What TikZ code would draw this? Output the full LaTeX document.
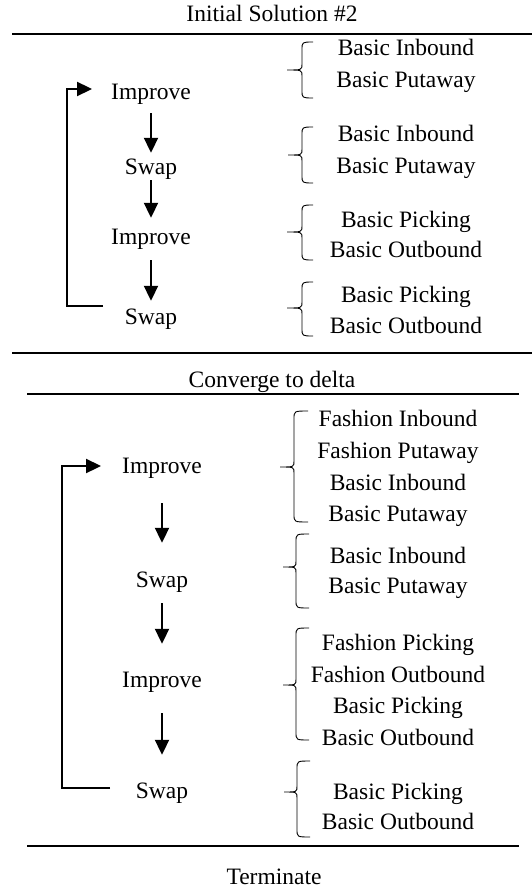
\documentclass[tikz,border=0pt]{standalone}
\usepackage{fontspec}
\setmainfont{Liberation Serif}
\usetikzlibrary{arrows.meta}
\begin{document}
\begin{tikzpicture}[x=1pt,y=-1pt,
  txt/.style={font=\fontsize{23.5pt}{28pt}\selectfont,inner sep=0pt,anchor=base,text height=16pt,text depth=5pt},
  rule/.style={line width=2.2pt},
  arr/.style={line width=2pt,-{Triangle[length=15pt,width=14pt]}},
  loopline/.style={line width=2.3pt,-{Triangle[length=15pt,width=14pt]}},
  brc/.style={line width=0.9pt}]
\useasboundingbox (0,0) rectangle (532,888);
\newcommand\mybrace[6]{% tipx stemx endx top mid bottom
  \draw[brc] (#3,#4) .. controls (#2,#4) .. (#2,#4+8) -- (#2,#5-6)
    .. controls (#2,#5) .. (#1,#5) .. controls (#2,#5) .. (#2,#5+6)
    -- (#2,#6-8) .. controls (#2,#6) .. (#3,#6);}
% ---------- section 1 ----------
\node[txt] (title1) at (272,22) {Initial Solution \#2};
\draw[rule] (12,34) -- (532,34);
\node[txt] (imp1) at (151,100) {Improve};
\node[txt] (swp1) at (151,174) {Swap};
\node[txt] (imp2) at (151,244) {Improve};
\node[txt] (swp2) at (151,324) {Swap};
\draw[arr,shorten <=8pt,shorten >=5pt] (imp1) -- (swp1);
\draw[arr,shorten <=1pt,shorten >=10pt] (swp1) -- (imp2);
\draw[arr,shorten <=11pt,shorten >=7pt] (imp2) -- (swp2);
\coordinate (l1s) at (103,306);
\coordinate (l1e) at (92,89);
\draw[loopline] (l1s) -- (67,306) -- (67,89) -- (l1e);
\node[txt] (r1a) at (406,56) {Basic Inbound};
\node[txt] (r1b) at (406,88) {Basic Putaway};
\mybrace{287}{302}{313}{42}{70}{98}
\node[txt] (r2a) at (406,142) {Basic Inbound};
\node[txt] (r2b) at (406,173) {Basic Putaway};
\mybrace{288}{302}{313}{127}{155}{183}
\node[txt] (r3a) at (406,227) {Basic Picking};
\node[txt] (r3b) at (406,257) {Basic Outbound};
\mybrace{287}{302}{313}{205}{232}{260}
\node[txt] (r4a) at (406,302) {Basic Picking};
\node[txt] (r4b) at (406,333) {Basic Outbound};
\mybrace{287}{302}{313}{282}{308}{336}
\draw[rule] (12,353) -- (532,353);
% ---------- section 2 ----------
\node[txt] (conv) at (272,387) {Converge to delta};
\draw[rule] (27,394) -- (519,394);
\node[txt] (imp3) at (162,473) {Improve};
\node[txt] (swp3) at (162,587) {Swap};
\node[txt] (imp4) at (162,687) {Improve};
\node[txt] (swp4) at (162,798) {Swap};
\draw[arr,shorten <=25pt,shorten >=28pt] (imp3) -- (swp3);
\draw[arr,shorten <=11pt,shorten >=27pt] (swp3) -- (imp4);
\draw[arr,shorten <=21pt,shorten >=27pt] (imp4) -- (swp4);
\coordinate (l2s) at (110,788);
\coordinate (l2e) at (101,466);
\draw[loopline] (l2s) -- (62,788) -- (62,466) -- (l2e);
\node[txt] (s1a) at (398,426) {Fashion Inbound};
\node[txt] (s1b) at (398,458) {Fashion Putaway};
\node[txt] (s1c) at (398,490) {Basic Inbound};
\node[txt] (s1d) at (398,521) {Basic Putaway};
\mybrace{280}{294}{308}{411}{467}{522}
\node[txt] (s2a) at (398,563) {Basic Inbound};
\node[txt] (s2b) at (398,593) {Basic Putaway};
\mybrace{283}{296}{309}{534}{567}{608}
\node[txt] (s3a) at (398,650) {Fashion Picking};
\node[txt] (s3b) at (398,682) {Fashion Outbound};
\node[txt] (s3c) at (398,713) {Basic Picking};
\node[txt] (s3d) at (398,745) {Basic Outbound};
\mybrace{283}{296}{309}{628}{685}{740}
\node[txt] (s4a) at (398,799) {Basic Picking};
\node[txt] (s4b) at (398,829) {Basic Outbound};
\mybrace{284}{297}{310}{761}{792}{837}
\draw[rule] (27,846) -- (519,846);
\node[txt] (term) at (274,884) {Terminate};
\end{tikzpicture}
\end{document}
